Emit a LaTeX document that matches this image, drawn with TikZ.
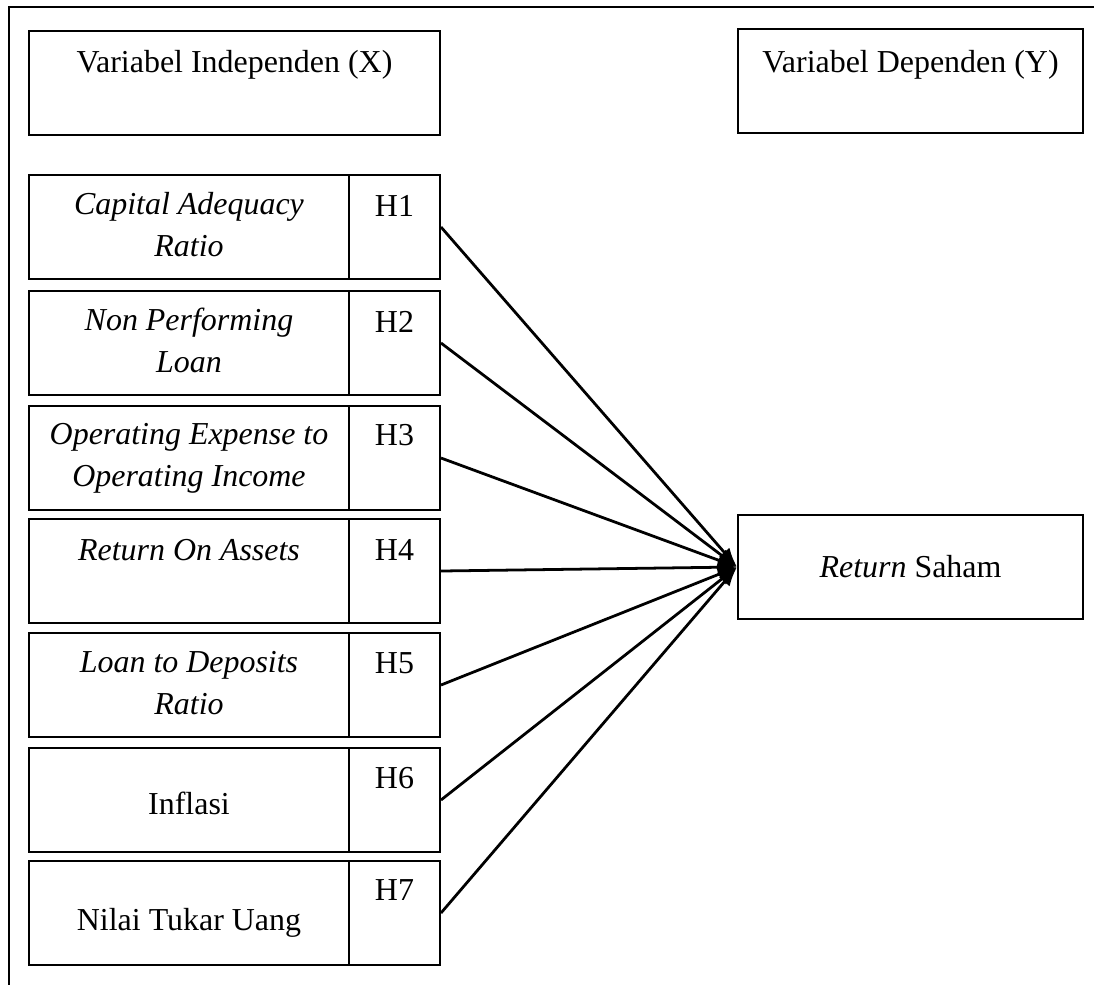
\documentclass[tikz,border=0pt]{standalone}
\usepackage{fontspec}
\setmainfont{Liberation Serif}
\usetikzlibrary{arrows.meta}

\begin{document}
\begin{tikzpicture}[x=0.36pt,y=-0.36pt,line width=0.7pt,font=\fontsize{11.5}{15}\selectfont]
				\tikzstyle{head}=[draw,minimum width=147.96pt,minimum height=37.44pt,inner sep=0pt]
				\tikzstyle{dhead}=[draw,minimum width=124.2pt,minimum height=37.44pt,inner sep=0pt]
				\tikzstyle{cell}=[draw,minimum width=115.2pt,minimum height=37.44pt,inner sep=0pt]
				\tikzstyle{hcell}=[draw,minimum width=32.76pt,minimum height=37.44pt,inner sep=0pt]
				\tikzstyle{txt}=[anchor=base,align=center,inner sep=0pt]
				\tikzstyle{link}=[-{Latex[length=7pt,width=5pt]},line width=1pt]
				
				\useasboundingbox (0,0) rectangle (1094,984);
				\draw (9,995) -- (9,7) -- (1105,7);
				
				\node[head](indep) at (234.5,83){};
				\node[txt](indeplbl) at (234.5,72){Variabel Independen (X)};
				\node[dhead](dep) at (910.5,81){};
				\node[txt](deplbl) at (910.5,72){Variabel Dependen (Y)};
				
				\node[cell](v1) at (189,227){};
				\node[cell](v2) at (189,343){};
				\node[cell](v3) at (189,458){};
				\node[cell](v4) at (189,571){};
				\node[cell](v5) at (189,685){};
				\node[cell](v6) at (189,800){};
				\node[cell](v7) at (189,913){};
				
				\node[hcell](h1) at (394.5,227){};
				\node[hcell](h2) at (394.5,343){};
				\node[hcell](h3) at (394.5,458){};
				\node[hcell](h4) at (394.5,571){};
				\node[hcell](h5) at (394.5,685){};
				\node[hcell](h6) at (394.5,800){};
				\node[hcell](h7) at (394.5,913){};
				
				% base anchor sits on the last line
				\node[txt](v1lbl) at (189,256){\textit{Capital Adequacy}\\\textit{Ratio}};
				\node[txt](v2lbl) at (189,372){\textit{Non Performing}\\\textit{Loan}};
				\node[txt](v3lbl) at (189,486){\textit{Operating Expense to}\\\textit{Operating Income}};
				\node[txt](v4lbl) at (189,560){\textit{Return On Assets}};
				\node[txt](v5lbl) at (189,714){\textit{Loan to Deposits}\\\textit{Ratio}};
				\node[txt](v6lbl) at (189,814){Inflasi};
				\node[txt](v7lbl) at (189,930){Nilai Tukar Uang};
				
				\node[txt](h1lbl) at (394.5,216){H1};
				\node[txt](h2lbl) at (394.5,332){H2};
				\node[txt](h3lbl) at (394.5,445){H3};
				\node[txt](h4lbl) at (394.5,560){H4};
				\node[txt](h5lbl) at (394.5,673){H5};
				\node[txt](h6lbl) at (394.5,788){H6};
				\node[txt](h7lbl) at (394.5,900){H7};
				
				\node[dhead](ret) at (910.5,567){\textit{Return} Saham};
				
				\draw[link] (h1.east) -- (ret.west);
				\draw[link] (h2.east) -- (ret.west);
				\draw[link] (h3.east) -- (ret.west);
				\draw[link] (h4.east) -- (ret.west);
				\draw[link] (h5.east) -- (ret.west);
				\draw[link] (h6.east) -- (ret.west);
				\draw[link] (h7.east) -- (ret.west);
\end{tikzpicture}
\end{document}
